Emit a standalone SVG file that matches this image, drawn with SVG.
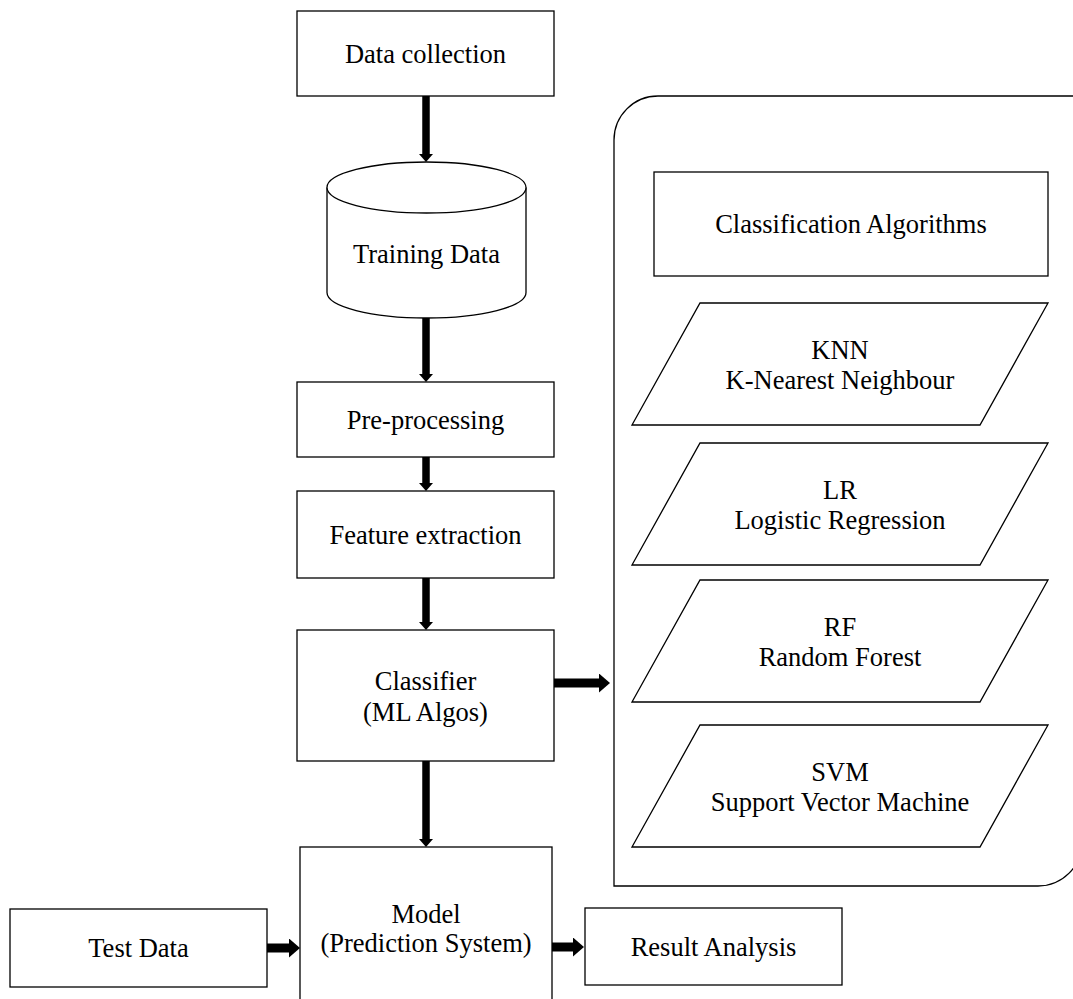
<svg xmlns="http://www.w3.org/2000/svg" width="1073" height="999" viewBox="0 0 1073 999">
<style>
.s{fill:#fff;stroke:#000;stroke-width:1.3}
.t{font-family:"Liberation Serif","Times New Roman",serif;font-size:26.5px;fill:#000;text-anchor:middle}
.c{stroke:#000;fill:none}
.v{stroke-width:7.5}
.h{stroke-width:9}
</style>
<defs>
<marker id="av" markerUnits="userSpaceOnUse" markerWidth="8" markerHeight="14" refX="0" refY="7" orient="auto" viewBox="0 0 8 14">
<path d="M0,0 L8,7 L0,14 z" fill="#000"/>
</marker>
<marker id="ah" markerUnits="userSpaceOnUse" markerWidth="11" markerHeight="19" refX="0" refY="9.5" orient="auto" viewBox="0 0 11 19">
<path d="M0,0 L11,9.5 L0,19 z" fill="#000"/>
</marker>
</defs>
<rect width="1073" height="999" fill="#fff"/>

<g id="container">
<path class="s" d="M614,886 L614,140 A44,44 0 0 1 658,96 L1082,96 L1082,842 A44,44 0 0 1 1038,886 Z"/>
</g>

<g id="data-collection">
<rect class="s" x="297" y="11" width="257" height="85"/>
<text class="t" x="425.5" y="63">Data collection</text>
</g>

<g id="training-data">
<path class="s" d="M327,187.5 L327,292.5 A99.5,25.5 0 0 0 526,292.5 L526,187.5"/>
<ellipse class="s" cx="426.5" cy="187.5" rx="99.5" ry="25.5"/>
<text class="t" x="426.5" y="263">Training Data</text>
</g>

<g id="pre-processing">
<rect class="s" x="297" y="382" width="257" height="75"/>
<text class="t" x="425.5" y="428.5">Pre-processing</text>
</g>

<g id="feature-extraction">
<rect class="s" x="297" y="491" width="257" height="87"/>
<text class="t" x="425.5" y="543.5">Feature extraction</text>
</g>

<g id="classifier">
<rect class="s" x="297" y="630" width="257" height="131"/>
<text class="t" x="425.5" y="690">Classifier</text>
<text class="t" x="425.5" y="721">(ML Algos)</text>
</g>

<g id="model">
<rect class="s" x="300" y="847" width="252" height="170"/>
<text class="t" x="426" y="923">Model</text>
<text class="t" x="426" y="952">(Prediction System)</text>
</g>

<g id="test-data">
<rect class="s" x="10" y="909" width="257" height="78"/>
<text class="t" x="138.5" y="957">Test Data</text>
</g>

<g id="result-analysis">
<rect class="s" x="585" y="908" width="257" height="77"/>
<text class="t" x="713.5" y="955.5">Result Analysis</text>
</g>

<g id="classification-algorithms">
<rect class="s" x="654" y="172" width="394" height="104"/>
<text class="t" x="851" y="233">Classification Algorithms</text>
</g>

<g id="knn">
<polygon class="s" points="700,303 1048,303 980,425 632,425"/>
<text class="t" x="840" y="359">KNN</text>
<text class="t" x="840" y="389">K-Nearest Neighbour</text>
</g>

<g id="lr">
<polygon class="s" points="700,443 1048,443 980,565 632,565"/>
<text class="t" x="840" y="499">LR</text>
<text class="t" x="840" y="529">Logistic Regression</text>
</g>

<g id="rf">
<polygon class="s" points="700,580 1048,580 980,702 632,702"/>
<text class="t" x="840" y="636">RF</text>
<text class="t" x="840" y="666">Random Forest</text>
</g>

<g id="svm">
<polygon class="s" points="700,725 1048,725 980,847 632,847"/>
<text class="t" x="840" y="781">SVM</text>
<text class="t" x="840" y="811">Support Vector Machine</text>
</g>

<g id="connectors">
<line class="c v" x1="426" y1="96" x2="426" y2="154" marker-end="url(#av)"/>
<line class="c v" x1="426" y1="318" x2="426" y2="374" marker-end="url(#av)"/>
<line class="c v" x1="426" y1="457" x2="426" y2="483" marker-end="url(#av)"/>
<line class="c v" x1="426" y1="578" x2="426" y2="622" marker-end="url(#av)"/>
<line class="c v" x1="426" y1="761" x2="426" y2="839" marker-end="url(#av)"/>
<line class="c h" x1="554" y1="683" x2="599" y2="683" marker-end="url(#ah)"/>
<line class="c h" x1="267" y1="948" x2="289" y2="948" marker-end="url(#ah)"/>
<line class="c h" x1="552" y1="947" x2="573" y2="947" marker-end="url(#ah)"/>
</g>
</svg>
